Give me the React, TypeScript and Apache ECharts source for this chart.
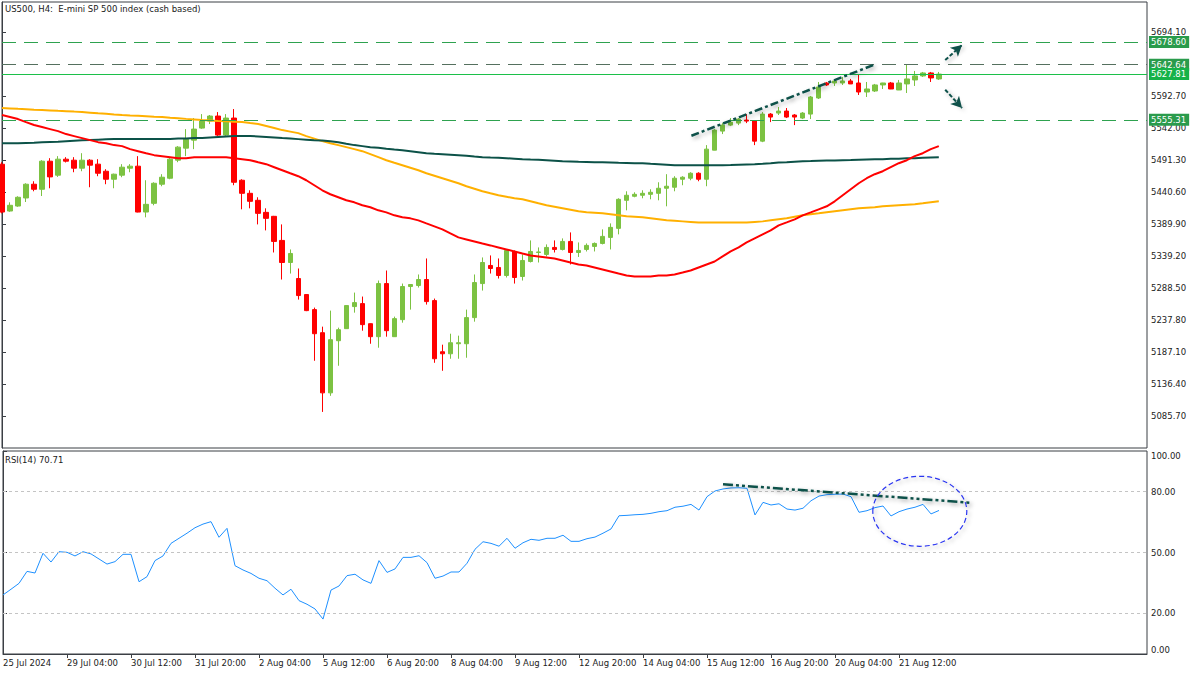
import React, { useEffect, useRef } from "react";
import * as echarts from "echarts";

const FONT = '"DejaVu Sans", Verdana, sans-serif';

const titleText = "US500, H4:  E-mini SP 500 index (cash based)";
const rsiTitle = "RSI(14) 70.71";

const tickLabels = [
  "25 Jul 2024", "29 Jul 04:00", "30 Jul 12:00", "31 Jul 20:00", "2 Aug 04:00",
  "5 Aug 12:00", "6 Aug 20:00", "8 Aug 04:00", "9 Aug 12:00", "12 Aug 20:00",
  "14 Aug 04:00", "15 Aug 12:00", "16 Aug 20:00", "20 Aug 04:00", "21 Aug 12:00",
];
const barsPerTick = 8;
const totalSlots = 144;

const opens = [
  5484.9, 5410.7, 5418.6, 5431.4, 5453.2, 5445.2, 5489.7, 5467.5, 5492.9, 5491.3,
  5478.6, 5491.3, 5485.0, 5473.8, 5461.1, 5467.5, 5478.6, 5481.8, 5409.1, 5422.9,
  5453.2, 5462.7, 5491.3, 5510.4, 5523.1, 5542.2, 5553.3, 5561.3, 5531.1, 5558.1,
  5459.5, 5438.8, 5427.7, 5408.6, 5402.3, 5364.1, 5329.1, 5303.7, 5278.3, 5254.4,
  5217.8, 5122.4, 5205.1, 5224.2, 5259.2, 5263.9, 5232.1, 5211.5, 5295.7, 5211.5,
  5238.5, 5291.0, 5292.6, 5302.1, 5268.7, 5187.6, 5184.4, 5200.3, 5200.3, 5241.7,
  5295.7, 5324.4, 5321.2, 5308.5, 5346.6, 5306.9, 5330.7, 5345.0, 5341.9, 5353.0,
  5349.8, 5362.5, 5345.0, 5349.8, 5354.6, 5359.3, 5368.9, 5383.2, 5427.7, 5434.1,
  5435.7, 5437.2, 5438.8, 5446.8, 5448.4, 5461.1, 5462.7, 5470.6, 5461.1, 5507.2,
  5537.4, 5546.9, 5550.1, 5554.9, 5553.8, 5521.5, 5564.4, 5566.0, 5569.2, 5562.9,
  5558.1, 5564.4, 5589.9, 5613.7, 5613.7, 5613.7, 5616.9, 5613.7, 5599.4, 5601.0,
  5610.6, 5613.7, 5602.6, 5612.2, 5618.5, 5624.9, 5629.6, 5620.1,
];
const highs = [
  5488.1, 5424.5, 5434.1, 5454.7, 5457.9, 5491.3, 5494.5, 5497.7, 5496.1, 5496.1,
  5502.4, 5492.9, 5492.9, 5477.0, 5470.0, 5485.0, 5485.0, 5497.7, 5459.5, 5456.3,
  5469.1, 5494.5, 5513.6, 5540.6, 5558.1, 5564.4, 5562.9, 5567.6, 5564.4, 5572.4,
  5461.1, 5443.6, 5432.5, 5415.0, 5403.0, 5389.5, 5349.8, 5319.6, 5279.0, 5257.6,
  5227.4, 5252.8, 5225.8, 5261.0, 5281.4, 5275.1, 5232.5, 5300.5, 5316.4, 5243.3,
  5295.7, 5294.5, 5310.1, 5335.5, 5271.9, 5198.8, 5216.2, 5213.1, 5254.4, 5310.1,
  5337.1, 5340.3, 5335.5, 5349.8, 5348.2, 5341.9, 5364.1, 5353.0, 5357.8, 5364.1,
  5367.3, 5376.8, 5360.9, 5359.3, 5360.9, 5381.6, 5391.1, 5430.9, 5442.0, 5440.4,
  5443.6, 5445.2, 5456.3, 5469.1, 5465.9, 5465.9, 5472.2, 5472.2, 5515.2, 5540.6,
  5550.1, 5558.1, 5558.1, 5564.4, 5554.9, 5567.6, 5566.0, 5575.6, 5574.0, 5564.4,
  5567.6, 5593.1, 5615.3, 5615.3, 5618.5, 5623.3, 5620.1, 5626.5, 5615.3, 5612.2,
  5614.0, 5615.3, 5618.5, 5642.6, 5632.8, 5631.2, 5631.2, 5631.2,
];
const lows = [
  5407.0, 5409.5, 5417.4, 5425.0, 5442.0, 5434.5, 5446.8, 5464.8, 5487.7, 5472.2,
  5473.8, 5448.4, 5465.9, 5453.2, 5446.8, 5464.3, 5472.2, 5408.6, 5400.7, 5419.8,
  5450.0, 5461.1, 5488.1, 5497.7, 5508.8, 5541.0, 5548.6, 5529.5, 5529.5, 5451.6,
  5413.4, 5415.0, 5389.5, 5380.0, 5345.0, 5302.1, 5311.6, 5270.3, 5252.0, 5173.3,
  5092.2, 5117.7, 5165.4, 5224.0, 5249.6, 5221.0, 5200.3, 5194.0, 5211.5, 5211.0,
  5233.7, 5254.4, 5289.4, 5262.4, 5170.1, 5157.4, 5176.5, 5176.5, 5178.1, 5235.3,
  5284.6, 5311.6, 5303.7, 5305.3, 5295.7, 5300.5, 5329.1, 5329.1, 5338.7, 5345.0,
  5348.2, 5326.0, 5337.9, 5346.6, 5346.6, 5357.8, 5349.8, 5373.7, 5411.8, 5432.5,
  5430.9, 5429.3, 5427.7, 5418.2, 5442.0, 5451.6, 5459.5, 5457.9, 5450.0, 5507.0,
  5532.7, 5545.4, 5546.9, 5550.1, 5515.2, 5519.9, 5551.7, 5562.9, 5558.1, 5546.9,
  5556.5, 5556.5, 5588.3, 5609.0, 5609.0, 5610.6, 5612.0, 5594.7, 5591.5, 5599.4,
  5604.2, 5604.0, 5602.5, 5597.8, 5609.0, 5623.3, 5615.3, 5618.5,
];
const closes = [
  5409.1, 5419.8, 5432.5, 5453.2, 5445.2, 5489.7, 5464.8, 5492.9, 5489.7, 5478.6,
  5491.3, 5483.4, 5470.6, 5461.1, 5469.1, 5480.2, 5481.8, 5409.1, 5421.3, 5454.7,
  5464.3, 5492.9, 5512.0, 5524.7, 5540.6, 5553.3, 5561.3, 5531.1, 5558.1, 5456.3,
  5438.8, 5426.1, 5407.0, 5399.1, 5362.5, 5329.1, 5343.4, 5276.7, 5252.8, 5216.2,
  5122.4, 5206.7, 5222.6, 5260.8, 5265.5, 5230.6, 5211.5, 5295.7, 5221.0, 5240.1,
  5291.0, 5294.2, 5302.1, 5267.1, 5176.5, 5184.4, 5201.9, 5201.9, 5241.7, 5297.3,
  5329.1, 5319.6, 5308.5, 5348.2, 5305.3, 5332.3, 5346.6, 5345.8, 5353.0, 5349.8,
  5362.5, 5345.0, 5348.2, 5356.2, 5359.3, 5370.5, 5384.8, 5429.3, 5435.7, 5437.2,
  5438.8, 5440.4, 5446.8, 5450.0, 5462.7, 5464.3, 5470.6, 5461.1, 5508.8, 5539.0,
  5546.9, 5551.7, 5556.5, 5553.3, 5521.5, 5564.4, 5559.7, 5569.2, 5559.7, 5559.7,
  5566.0, 5591.5, 5607.4, 5610.6, 5616.9, 5616.9, 5612.2, 5599.4, 5604.2, 5610.6,
  5613.7, 5604.2, 5613.7, 5620.1, 5624.9, 5629.6, 5621.7, 5627.81,
];

const maOrange = [
  5574.0, 5573.4, 5572.7, 5572.1, 5571.4, 5570.8, 5570.2, 5569.5, 5568.9, 5568.3,
  5567.6, 5566.7, 5565.7, 5564.8, 5563.8, 5562.9, 5562.2, 5561.6, 5561.0, 5560.3,
  5559.7, 5558.7, 5557.8, 5556.8, 5555.9, 5554.9, 5554.3, 5553.6, 5553.0, 5552.4,
  5551.7, 5550.1, 5548.6, 5545.4, 5542.2, 5539.0, 5536.6, 5534.2, 5529.5, 5525.5,
  5521.5, 5518.3, 5515.2, 5512.0, 5508.8, 5505.6, 5500.9, 5496.1, 5491.3, 5487.3,
  5483.4, 5479.4, 5475.4, 5470.6, 5466.7, 5462.7, 5458.7, 5454.7, 5450.0, 5446.0,
  5442.0, 5438.8, 5435.7, 5433.3, 5430.9, 5429.3, 5426.1, 5422.9, 5419.8, 5417.4,
  5415.0, 5412.6, 5410.2, 5408.6, 5407.8, 5407.0, 5405.5, 5403.9, 5402.3, 5401.5,
  5400.7, 5399.1, 5397.5, 5395.9, 5395.1, 5394.3, 5393.5, 5392.7, 5392.7, 5392.7,
  5392.7, 5392.7, 5392.7, 5392.7, 5393.5, 5394.3, 5395.9, 5397.5, 5399.1, 5401.5,
  5403.9, 5405.5, 5407.0, 5408.6, 5410.2, 5411.8, 5413.4, 5415.0, 5415.8, 5416.6,
  5418.2, 5419.0, 5419.8, 5420.6, 5421.4, 5422.9, 5424.5, 5426.1,
];
const maRed = [
  5562.9, 5559.7, 5556.5, 5551.7, 5547.0, 5543.8, 5540.6, 5537.4, 5532.7, 5529.5,
  5526.3, 5523.1, 5519.9, 5518.3, 5515.2, 5513.6, 5508.8, 5505.6, 5502.4, 5499.3,
  5497.7, 5496.1, 5494.5, 5494.5, 5496.1, 5496.1, 5496.1, 5496.1, 5496.1, 5494.5,
  5492.9, 5491.3, 5488.1, 5485.0, 5480.2, 5475.4, 5470.6, 5465.9, 5459.5, 5451.6,
  5443.6, 5437.3, 5432.5, 5427.7, 5424.5, 5419.8, 5416.6, 5411.8, 5408.6, 5403.9,
  5400.7, 5399.1, 5395.9, 5391.1, 5386.4, 5381.6, 5375.2, 5368.9, 5365.7, 5362.5,
  5359.3, 5356.2, 5353.0, 5349.8, 5346.6, 5343.4, 5340.3, 5338.7, 5337.1, 5335.5,
  5332.3, 5329.1, 5326.0, 5324.4, 5321.2, 5318.0, 5314.8, 5311.6, 5308.5, 5306.9,
  5306.9, 5306.9, 5308.5, 5308.5, 5310.1, 5313.2, 5316.4, 5321.2, 5326.0, 5330.7,
  5338.7, 5346.6, 5353.0, 5360.9, 5367.3, 5373.7, 5380.0, 5388.0, 5392.7, 5397.5,
  5403.9, 5408.6, 5413.4, 5418.2, 5426.1, 5435.7, 5445.2, 5454.7, 5462.7, 5469.1,
  5473.8, 5480.2, 5486.5, 5491.3, 5497.7, 5502.4, 5508.8, 5513.6,
];
const maDarkGreen = [
  5518.3, 5518.3, 5518.3, 5518.7, 5519.1, 5519.9, 5520.3, 5520.7, 5521.5, 5522.3,
  5523.1, 5523.4, 5523.9, 5524.4, 5524.7, 5524.7, 5524.7, 5524.7, 5524.7, 5524.7,
  5524.7, 5525.0, 5525.5, 5525.8, 5526.3, 5526.3, 5527.1, 5527.9, 5528.7, 5529.5,
  5529.5, 5529.5, 5529.0, 5528.2, 5527.4, 5526.3, 5525.5, 5524.7, 5523.9, 5523.1,
  5522.6, 5521.5, 5519.9, 5517.5, 5515.2, 5513.6, 5512.0, 5511.2, 5509.6, 5508.3,
  5507.2, 5505.6, 5504.0, 5502.4, 5501.6, 5500.9, 5500.1, 5499.3, 5498.5, 5497.2,
  5496.1, 5495.6, 5495.3, 5494.5, 5493.7, 5492.9, 5492.4, 5492.0, 5491.3, 5490.5,
  5489.7, 5489.4, 5488.9, 5488.6, 5488.1, 5488.1, 5487.7, 5487.3, 5487.0, 5486.5,
  5486.5, 5485.7, 5485.0, 5484.2, 5483.4, 5483.4, 5483.4, 5483.4, 5483.4, 5483.4,
  5483.4, 5483.7, 5484.2, 5484.6, 5485.0, 5485.7, 5486.5, 5487.7, 5488.1, 5488.9,
  5489.7, 5490.0, 5490.4, 5490.7, 5491.0, 5491.3, 5491.6, 5492.0, 5492.3, 5492.6,
  5492.9, 5493.4, 5493.7, 5494.2, 5494.5, 5495.1, 5495.6, 5496.1,
];

const rsiValues = [
  29.1, 31.9, 34.8, 40.7, 39.9, 49.6, 45.3, 50.4, 50.1, 48.3,
  50.4, 49.3, 46.8, 44.3, 45.5, 49.1, 49.1, 35.6, 38.1, 46.0,
  48.3, 54.5, 57.0, 59.5, 62.2, 64.0, 65.2, 57.5, 61.9, 43.5,
  41.4, 39.7, 37.3, 36.1, 32.4, 29.1, 31.9, 26.3, 24.5, 22.2,
  17.2, 31.5, 33.5, 38.6, 39.3, 36.5, 34.8, 46.0, 40.2, 41.9,
  47.6, 47.6, 48.4, 45.0, 37.3, 38.4, 40.4, 40.4, 44.7, 51.6,
  55.3, 54.5, 53.1, 57.0, 52.1, 54.8, 56.5, 56.0, 57.0, 57.0,
  58.5, 55.5, 55.5, 56.8, 57.6, 59.5, 61.6, 68.1, 68.3, 68.6,
  68.8, 69.3, 70.1, 70.6, 72.3, 72.8, 73.7, 70.9, 77.5, 80.3,
  81.3, 81.8, 81.9, 81.6, 68.5, 74.7, 73.4, 74.0, 71.4, 70.9,
  71.8, 75.5, 77.8, 78.5, 78.7, 78.8, 77.5, 69.8, 70.6, 72.1,
  72.9, 68.0, 70.1, 71.4, 72.3, 73.7, 69.0, 70.71,
];

const priceTicks = [5085.7, 5136.4, 5187.1, 5237.8, 5288.5, 5339.2, 5389.9, 5440.6, 5491.3, 5542.0, 5592.7, 5694.1];
const rsiTicks = [0, 20, 50, 80, 100];
const rsiLevels = [20, 50, 80];
const levelValues = [5678.6, 5642.64, 5627.81, 5555.31];

const trendMain = [[86.1, 5530.0], [108.8, 5642.0]];
const arrowUp = [[117.8, 5650.0], [119.9, 5674.0]];
const arrowDown = [[117.8, 5603.0], [119.9, 5574.0]];
const rsiTrend = [[90.0, 83.6], [121.0, 74.5]];
const rsiCircleCenter = [114.6, 70.3];

const levelLineColors = ["#2ea24f", "#55705f", "#1cc04a", "#2ea24f"];
const levelLineTypes: any[] = [[14, 8], [14, 8], "solid", [14, 8]];
const levelBoxColors = ["#2a9b4c", "#2a9b4c", "#16b248", "#2a9b4c"];

const BULL = "#7CC242";
const BEAR = "#FF0000";
const TEAL = "#0f514a";
const AXIS = "#3b3f45";

export default function App() {
  const ref = useRef<HTMLDivElement>(null);

  useEffect(() => {
    const chart = echarts.init(ref.current!, null, { renderer: "svg" });
    const categories = Array.from({ length: totalSlots }, (_, i) => String(i));
    const candleData = opens.map((o, i) => [o, closes[i], lows[i], highs[i]]);
    const lastTickIndex = (tickLabels.length - 1) * barsPerTick;
    const shadow = { shadowBlur: 4, shadowColor: "rgba(0,0,0,0.35)", shadowOffsetX: 2, shadowOffsetY: 2 };

    const option: any = {
      animation: false,
      backgroundColor: "#ffffff",
      textStyle: { fontFamily: FONT },
      grid: [
        { left: 2, top: 2, width: 1145, height: 446, show: true, borderColor: AXIS, borderWidth: 1 },
        { left: 2, top: 451, width: 1145, height: 203, show: true, borderColor: AXIS, borderWidth: 1 },
      ],
      xAxis: [
        {
          type: "category", gridIndex: 0, data: categories, boundaryGap: false,
          axisLine: { show: false }, axisTick: { show: false }, axisLabel: { show: false }, splitLine: { show: false },
        },
        {
          type: "category", gridIndex: 1, data: categories, boundaryGap: false,
          axisLine: { show: true, lineStyle: { color: AXIS } },
          axisTick: {
            show: true, length: 4, lineStyle: { color: AXIS },
            interval: (i: number) => i % barsPerTick === 0 && i > 0 && i <= lastTickIndex,
          },
          axisLabel: {
            show: true, align: "left", margin: 4, fontSize: 8.5, color: "#222", fontFamily: FONT,
            interval: (i: number) => i % barsPerTick === 0 && i <= lastTickIndex,
            formatter: (_v: string, i: number) =>
              i % barsPerTick === 0 && i <= lastTickIndex ? tickLabels[i / barsPerTick] : "",
          },
          splitLine: { show: false },
        },
        { type: "value", gridIndex: 0, min: 0, max: totalSlots - 1, show: false },
        { type: "value", gridIndex: 1, min: 0, max: totalSlots - 1, show: false },
      ],
      yAxis: [
        {
          type: "value", gridIndex: 0, position: "right", min: 5035.0, max: 5742.1, scale: true,
          axisLine: { show: true, lineStyle: { color: AXIS } },
          axisTick: { show: true, length: 4, lineStyle: { color: AXIS }, customValues: priceTicks },
          axisLabel: {
            show: true, customValues: priceTicks, margin: 4, fontSize: 8.5, color: "#222", fontFamily: FONT,
            formatter: (v: number) => v.toFixed(2),
          },
          splitLine: { show: false },
        },
        {
          type: "value", gridIndex: 1, position: "right", min: 0, max: 100,
          axisLine: { show: true, lineStyle: { color: AXIS } },
          axisTick: { show: true, length: 4, lineStyle: { color: AXIS }, customValues: rsiTicks },
          axisLabel: {
            show: true, customValues: rsiTicks, margin: 4, fontSize: 8.5, color: "#222", fontFamily: FONT,
            formatter: (v: number) => v.toFixed(2),
            verticalAlignMaxLabel: "top", verticalAlignMinLabel: "bottom",
          },
          splitLine: { show: false },
        },
      ],
      series: [
        {
          name: "US500", type: "candlestick", xAxisIndex: 0, yAxisIndex: 0, data: candleData,
          barWidth: 5, clip: true, z: 2,
          itemStyle: { color: BULL, color0: BEAR, borderColor: BULL, borderColor0: BEAR, borderWidth: 1 },
        },
        {
          name: "MA orange", type: "line", xAxisIndex: 0, yAxisIndex: 0, data: maOrange,
          showSymbol: false, symbol: "none", z: 3, lineStyle: { color: "#FFB000", width: 2 },
        },
        {
          name: "MA dark", type: "line", xAxisIndex: 0, yAxisIndex: 0, data: maDarkGreen,
          showSymbol: false, symbol: "none", z: 3, lineStyle: { color: "#0c5248", width: 2 },
        },
        {
          name: "MA red", type: "line", xAxisIndex: 0, yAxisIndex: 0, data: maRed,
          showSymbol: false, symbol: "none", z: 3, lineStyle: { color: "#FF0000", width: 2 }, clip: false,
          markLine: {
            silent: true, symbol: ["none", "none"], z: 6,
            data: levelValues.map((v, i) => ({
              yAxis: v,
              lineStyle: { color: levelLineColors[i], type: levelLineTypes[i], width: 1 },
              label: {
                show: true, position: "end", distance: 2, color: "#ffffff", fontSize: 8.5, fontFamily: FONT,
                backgroundColor: levelBoxColors[i], padding: [2, 3, 1, 2],
                formatter: () => v.toFixed(2),
              },
            })),
          },
        },
        {
          name: "RSI", type: "line", xAxisIndex: 1, yAxisIndex: 1, data: rsiValues,
          showSymbol: false, symbol: "none", z: 3, lineStyle: { color: "#1E90FF", width: 1 },
          markLine: {
            silent: true, symbol: ["none", "none"],
            data: rsiLevels.map((v) => ({ yAxis: v })),
            lineStyle: { color: "#c4c4c4", type: [3, 3], width: 1 },
            label: { show: false },
          },
        },
        {
          name: "Trend", type: "line", xAxisIndex: 2, yAxisIndex: 0, data: trendMain, clip: false,
          showSymbol: false, symbol: "none", z: 7,
          lineStyle: { color: TEAL, width: 2.5, type: [8, 3, 3, 3], ...shadow },
          markLine: {
            silent: true, symbol: ["none", "arrow"], symbolSize: [9, 11], z: 7,
            lineStyle: { color: TEAL, width: 2, type: [4, 2], ...shadow },
            itemStyle: { color: TEAL },
            label: { show: false },
            data: [
              [{ coord: arrowUp[0] }, { coord: arrowUp[1] }],
              [{ coord: arrowDown[0] }, { coord: arrowDown[1] }],
            ],
          },
        },
        {
          name: "RSI trend", type: "line", xAxisIndex: 3, yAxisIndex: 1, data: rsiTrend, clip: false,
          showSymbol: false, symbol: "none", z: 7,
          lineStyle: { color: TEAL, width: 2.5, type: [10, 3, 3, 3, 3, 3], ...shadow },
        },
      ],
    };
    chart.setOption(option);

    const c = chart.convertToPixel({ seriesIndex: 6 }, rsiCircleCenter) as number[];
    chart.setOption({
      graphic: [
        {
          id: "title", type: "text", left: 5, top: 4,
          style: { text: titleText, font: `8.5px ${FONT}`, fill: "#1a1a1a" },
        },
        {
          id: "rsiTitle", type: "text", left: 5, top: 455,
          style: { text: rsiTitle, font: `8.5px ${FONT}`, fill: "#1a1a1a" },
        },
        {
          id: "circle", type: "ellipse", z: 10,
          shape: { cx: c[0], cy: c[1], rx: 47, ry: 35 },
          style: {
            fill: "none", stroke: "#2b36f0", lineWidth: 1.2, lineDash: [5, 3],
            shadowBlur: 4, shadowColor: "rgba(0,0,0,0.3)", shadowOffsetX: 2, shadowOffsetY: 2,
          },
        },
      ],
    });

    return () => chart.dispose();
  }, []);

  return (
    <div
      ref={ref}
      style={{ position: "fixed", left: 0, top: 0, width: 1200, height: 675, background: "#ffffff" }}
    />
  );
}
